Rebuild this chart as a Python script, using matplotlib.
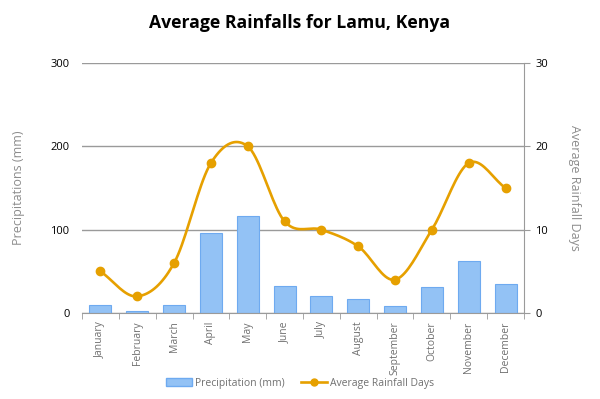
import numpy as np
import matplotlib
matplotlib.use("Agg")
import matplotlib.pyplot as plt
from matplotlib.lines import Line2D
from matplotlib.patches import Patch

months = ["January", "February", "March", "April", "May", "June", "July",
          "August", "September", "October", "November", "December"]
precip = [10, 2, 10, 96, 117, 32, 21, 17, 9, 31, 62, 35]
rain_days = [5, 2, 6, 18, 20, 11, 10, 8, 4, 10, 18, 15]

plt.rcParams['font.family'] = ['Open Sans', 'DejaVu Sans']

bar_col = '#93c2f5'
bar_edge = '#6eaaf0'
line_col = '#e6a000'
grey = '#8c8c8c'
grid_col = '#9a9a9a'


def smooth(xs, ys, n=20):
    # Catmull-Rom curve through the points, for the smoothed line look
    xs = np.asarray(xs, float)
    ys = np.asarray(ys, float)
    px = np.concatenate([[2 * xs[0] - xs[1]], xs, [2 * xs[-1] - xs[-2]]])
    py = np.concatenate([[2 * ys[0] - ys[1]], ys, [2 * ys[-1] - ys[-2]]])
    ox, oy = [], []
    t = np.linspace(0, 1, n)
    for i in range(1, len(px) - 2):
        for p, o in ((px, ox), (py, oy)):
            p0, p1, p2, p3 = p[i - 1], p[i], p[i + 1], p[i + 2]
            o.extend(0.5 * (2 * p1 + (-p0 + p2) * t
                            + (2 * p0 - 5 * p1 + 4 * p2 - p3) * t ** 2
                            + (-p0 + 3 * p1 - 3 * p2 + p3) * t ** 3))
    return ox, oy


fig = plt.figure(figsize=(6, 3.99), dpi=100)
ax = fig.add_axes([0.1367, 0.2155, 0.7366, 0.6265])
x = np.arange(len(months))

ax.bar(x, precip, width=0.6, color=bar_col, edgecolor=bar_edge, linewidth=0.8, zorder=2)
ax.set_ylim(0, 300)
ax.set_xlim(-0.5, len(months) - 0.5)
ax.set_yticks([0, 100, 200, 300])
ax.yaxis.grid(True, color=grid_col, linewidth=1, zorder=0)
ax.set_axisbelow(True)
ax.tick_params(axis='y', length=0, labelsize=8, pad=9)
ax.set_ylabel('Precipitations (mm)', color=grey, fontsize=9, labelpad=18)
for s in ['top', 'right', 'left']:
    ax.spines[s].set_visible(False)
ax.spines['bottom'].set_color(grid_col)

ax.set_xticks(x)
ax.set_xticklabels(months, rotation=90, fontsize=7.5, color='#707070')
ax.set_xticks(np.arange(-0.5, len(months)), minor=True)
ax.tick_params(axis='x', which='major', length=0, pad=6)
ax.tick_params(axis='x', which='minor', length=4, color=grid_col)

ax2 = ax.twinx()
sx, sy = smooth(x, rain_days)
ax2.plot(sx, sy, color=line_col, linewidth=1.9, zorder=3)
ax2.plot(x, rain_days, 'o', color=line_col, markersize=6, zorder=4)
ax2.set_ylim(0, 30)
ax2.set_yticks([0, 10, 20, 30])
ax2.tick_params(axis='y', length=4, color=grid_col, labelsize=8, pad=4)
ax2.set_ylabel('Average Rainfall Days', color=grey, fontsize=9, rotation=270, labelpad=24)
for s in ['top', 'left', 'bottom']:
    ax2.spines[s].set_visible(False)
ax2.spines['right'].set_color(grid_col)

fig.text(0.5, 0.943, 'Average Rainfalls for Lamu, Kenya', ha='center', va='center',
         fontsize=12.7, fontweight='bold')

handles = [Patch(facecolor=bar_col, edgecolor=bar_edge),
           Line2D([0], [0], color=line_col, linewidth=1.9, marker='o', markersize=5)]
fig.legend(handles, ['Precipitation (mm)', 'Average Rainfall Days'], loc='center',
           bbox_to_anchor=(0.5, 0.04), ncol=2, frameon=False, fontsize=7.5,
           labelcolor='#707070', handlelength=2.5, columnspacing=1.5, handletextpad=0.3)

fig.savefig('out.png', dpi=100)
